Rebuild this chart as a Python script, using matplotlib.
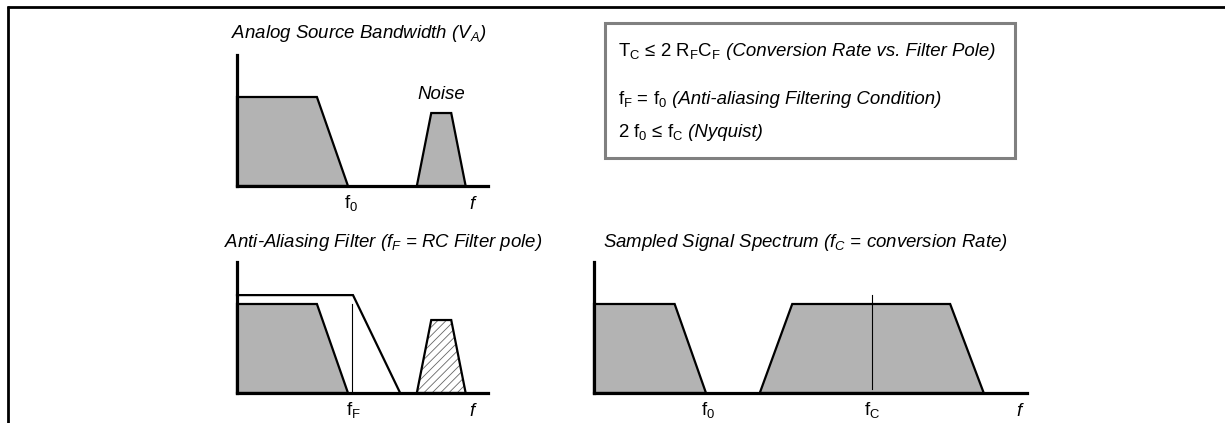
import matplotlib
matplotlib.use('Agg')
import matplotlib.pyplot as plt
from matplotlib.patches import Polygon, Rectangle
from matplotlib.lines import Line2D

plt.rcParams['font.family'] = ['Liberation Sans', 'DejaVu Sans']
plt.rcParams['mathtext.fontset'] = 'custom'
plt.rcParams['mathtext.rm'] = 'Liberation Sans'
plt.rcParams['mathtext.it'] = 'Liberation Sans:italic'
plt.rcParams['mathtext.bf'] = 'Liberation Sans:bold'
plt.rcParams['hatch.linewidth'] = 0.6

# ---------------- data (frequency units, f0 = 1; amplitude units) ----------------
signal_x = [0, 0, 0.72, 1.0]
signal_y = [0, 1.0, 1.0, 0]
noise_x = [1.62, 1.75, 1.93, 2.06]
noise_y = [0, 0.82, 0.82, 0]
filter_x = [0, 1.045, 1.47]
filter_y = [1.10, 1.10, 0]
f_F = 1.04
f_F_line_y = [0, 1.0]
f_C = 2.48
image_x = [1.48, 1.77, 3.18, 3.48]
image_y = [0, 1.0, 1.0, 0]
f_C_line_y = [0.05, 1.10]

titles = ["Analog Source Bandwidth ($\\mathit{V_A}$)",
          "Anti-Aliasing Filter ($\\mathit{f_F}$ = RC Filter pole)",
          "Sampled Signal Spectrum ($\\mathit{f_C}$ = conversion Rate)"]
box_lines = [("T$_\\mathrm{C}$ ≤ 2 R$_\\mathrm{F}$C$_\\mathrm{F}$", " (Conversion Rate vs. Filter Pole)"),
             ("f$_\\mathrm{F}$ = f$_0$", " (Anti-aliasing Filtering Condition)"),
             ("2 f$_0$ ≤ f$_\\mathrm{C}$", " (Nyquist)")]

W, H = 1225, 423
fig = plt.figure(figsize=(W / 100, H / 100), dpi=100)
FS = 13.4
GRAY = '#b3b3b3'

# frame
fig.add_artist(Line2D([7 / W, 1], [1 - 7.5 / H, 1 - 7.5 / H], color='k', lw=2.0,
                      transform=fig.transFigure, solid_capstyle='butt'))
fig.add_artist(Line2D([8 / W, 8 / W], [1 - 6.5 / H, 0], color='k', lw=2.0,
                      transform=fig.transFigure, solid_capstyle='butt'))


def panel(left_px, axis_px, xmax, ux=111, uy=89, ymax=1.47):
    ax = fig.add_axes([left_px / W, (H - axis_px) / H, xmax * ux / W, ymax * uy / H])
    ax.set_xlim(0, xmax)
    ax.set_ylim(0, ymax)
    ax.patch.set_alpha(0)
    for s in ('top', 'right'):
        ax.spines[s].set_visible(False)
    for s in ('left', 'bottom'):
        ax.spines[s].set_linewidth(2.3)
        ax.spines[s].set_zorder(5)
        ax.spines[s].set_capstyle('projecting')
    ax.set_xticks([])
    ax.set_yticks([])
    return ax


def flabel(ax, x, txt, dy=-5, italic=False):
    ax.annotate(txt, xy=(x, 0), xytext=(0, dy), textcoords='offset points',
                ha='center', va='top', fontsize=FS,
                fontstyle='italic' if italic else 'normal', annotation_clip=False)


# panel 1
ax1 = panel(237, 186, 2.26)
ax1.add_patch(Polygon(list(zip(signal_x, signal_y)), closed=True, fc=GRAY, ec='k', lw=1.6, clip_on=False))
ax1.add_patch(Polygon(list(zip(noise_x, noise_y)), closed=True, fc=GRAY, ec='k', lw=1.6, clip_on=False))
ax1.text((noise_x[1] + noise_x[2]) / 2, 1.03, 'Noise', ha='center', va='center', fontsize=FS, fontstyle='italic')
flabel(ax1, 1.03, 'f$_0$')
flabel(ax1, 2.12, 'f', dy=-7, italic=True)

# panel 2
ax2 = panel(237, 393, 2.26)
ax2.add_patch(Polygon(list(zip(signal_x, signal_y)), closed=True, fc=GRAY, ec='k', lw=1.6, clip_on=False))
ax2.plot(filter_x, filter_y, color='k', lw=1.6, solid_joinstyle='miter', clip_on=False)
ax2.plot([f_F, f_F], f_F_line_y, color='k', lw=0.8)
ax2.add_patch(Polygon(list(zip(noise_x, noise_y)), closed=True, fc='white', ec='#666666', lw=0,
                      hatch='////', clip_on=False))
ax2.add_patch(Polygon(list(zip(noise_x, noise_y)), closed=True, fill=False, ec='k', lw=1.6, clip_on=False))
flabel(ax2, 1.05, 'f$_\\mathrm{F}$')
flabel(ax2, 2.12, 'f', dy=-7, italic=True)

# panel 3
ax3 = panel(594, 393, 3.87, ux=112)
ax3.add_patch(Polygon(list(zip(signal_x, signal_y)), closed=True, fc=GRAY, ec='k', lw=1.6, clip_on=False))
ax3.add_patch(Polygon(list(zip(image_x, image_y)), closed=True, fc=GRAY, ec='k', lw=1.6, clip_on=False))
ax3.plot([f_C, f_C], f_C_line_y, color='k', lw=0.8)
flabel(ax3, 1.02, 'f$_0$')
flabel(ax3, f_C, 'f$_\\mathrm{C}$')
flabel(ax3, 3.79, 'f', dy=-7, italic=True)

# titles
for (xp, yp), t in zip([(231, 33), (224, 242), (603, 242)], titles):
    fig.text(xp / W, 1 - yp / H, t, ha='left', va='center', fontsize=FS, fontstyle='italic')

# equation box
fig.add_artist(Rectangle((605 / W, 1 - 158 / H), 410 / W, 135 / H, fill=False, ec='#808080', lw=2.2,
                         transform=fig.transFigure))
renderer = fig.canvas.get_renderer()
for (up, it), yb in zip(box_lines, [56, 104, 137]):
    t1 = fig.text(618 / W, 1 - yb / H, up, ha='left', va='baseline', fontsize=FS)
    wpx = t1.get_window_extent(renderer).width
    fig.text((618 + wpx) / W, 1 - yb / H, it, ha='left', va='baseline', fontsize=FS, fontstyle='italic')

fig.savefig('out.png', dpi=100)
